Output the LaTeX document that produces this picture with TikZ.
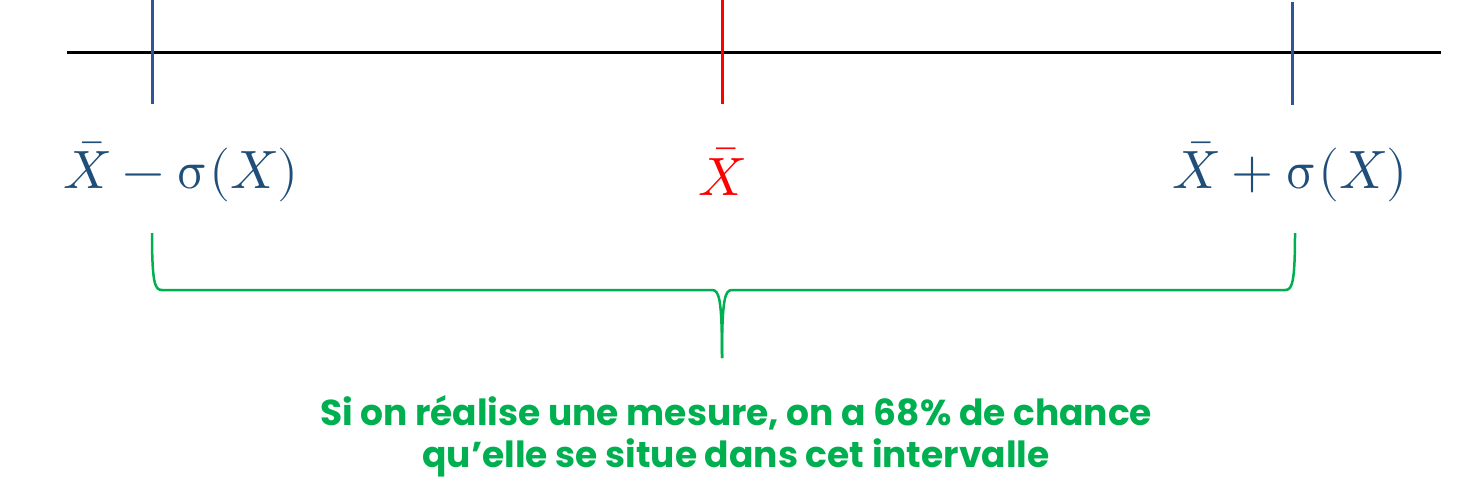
\documentclass[tikz,border=0pt]{standalone}
\usepackage{fontspec}
\usepackage{unicode-math}
\setmathfont{Latin Modern Math}
\newfontfamily\capfont{Poppins}
\definecolor{tickblue}{HTML}{2F5597}
\definecolor{labblue}{HTML}{1F4E79}
\definecolor{bracegreen}{HTML}{00B050}
\begin{document}
\begin{tikzpicture}[x=1pt,y=-1pt,
  axis/.style={line width=3pt,black},
  tickline/.style={line width=3pt},
  lab/.style={font=\fontsize{54}{60}\selectfont, inner sep=0pt},
  brace/.style={line width=2.5pt,bracegreen},
  captext/.style={font=\capfont\bfseries\fontsize{36}{42}\selectfont, text=bracegreen, align=center, inner sep=0pt}]
\useasboundingbox (0,0) rectangle (1476,501);
\coordinate (a0) at (67,52);
\coordinate (a1) at (1441,52);
\draw[axis] (a0) -- (a1);
\coordinate (t1a) at (152,0); \coordinate (t1b) at (152,104);
\coordinate (t2a) at (722,0); \coordinate (t2b) at (722,104);
\coordinate (t3a) at (1292,2); \coordinate (t3b) at (1292,105);
\draw[tickline,tickblue] (t1a) -- (t1b);
\draw[tickline,red] (t2a) -- (t2b);
\draw[tickline,tickblue] (t3a) -- (t3b);
\node[lab,text=labblue] (l1) at (181,172) {$\bar{X}-\upsigma(X)$};
\node[lab,text=red] (l2) at (722,172) {$\bar{X}$};
\node[lab,text=labblue] (l3) at (1290,172) {$\bar{X}+\upsigma(X)$};
\coordinate (bl) at (152,233);
\coordinate (br) at (1295,233);
\coordinate (bt) at (722,358);
\draw[brace] (bl) .. controls (152,284) and (155,290) .. (162,290) -- (712,290) .. controls (719,290) and (722,298) .. (bt);
\draw[brace] (br) .. controls (1295,284) and (1292,290) .. (1285,290) -- (732,290) .. controls (725,290) and (722,298) .. (bt);
\node[captext] (txt) at (736,436) {Si on réalise une mesure, on a 68\% de chance\\qu’elle se situe dans cet intervalle};
\end{tikzpicture}
\end{document}
